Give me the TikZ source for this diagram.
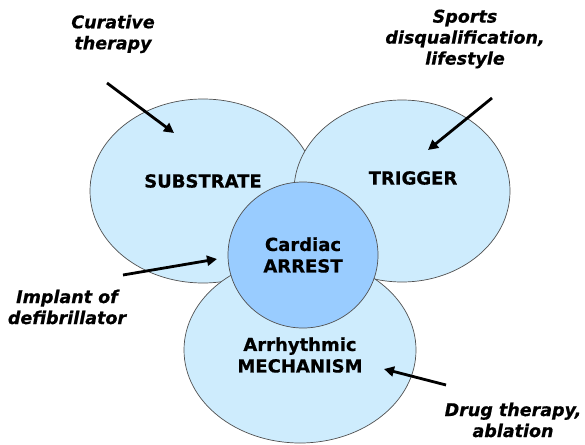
\documentclass[tikz,border=0pt]{standalone}
\usepackage{fontspec}
\setmainfont{DejaVu Sans}[BoldFeatures={FakeBold=0.6},BoldItalicFeatures={FakeBold=0.6}]
\usetikzlibrary{shapes.geometric,arrows.meta}
\definecolor{lightfill}{RGB}{206,236,253}
\definecolor{corefill}{RGB}{153,204,255}
\definecolor{edgegray}{RGB}{80,80,80}
\tikzset{
  blob/.style={ellipse, draw=edgegray, line width=0.7pt, fill=lightfill, inner sep=0pt},
  core/.style={ellipse, draw=edgegray, line width=0.7pt, fill=corefill, inner sep=0pt},
  caps/.style={font=\bfseries\fontsize{18}{21.5}\selectfont, align=center, inner sep=0pt},
  ital/.style={font=\bfseries\itshape\fontsize{17.5}{21}\selectfont, align=center, inner sep=0pt},
  pointer/.style={line width=2.8pt, -{Triangle[length=10pt,width=10pt]}}
}
\begin{document}
\begin{tikzpicture}[x=1pt,y=-1pt]
\useasboundingbox (0,0) rectangle (585,444);
\node[blob, minimum width=226pt, minimum height=184pt] (sub) at (203,191) {};
\node[blob, minimum width=216pt, minimum height=182pt] (trig) at (402,191) {};
\node[blob, minimum width=232pt, minimum height=186pt] (arr) at (300,350) {};
\node[core, minimum width=150pt, minimum height=146pt] (card) at (303,255) {};

\node[caps] (subl) at (203,181) {SUBSTRATE};
\node[caps] (trigl) at (413,178) {TRIGGER};
\node[caps] (cardl) at (303,255) {Cardiac\\ARREST};
\node[caps] (arrl) at (300,355) {Arrhythmic\\MECHANISM};

\node[ital] (cur) at (113,34) {Curative\\therapy};
\node[ital] (sports) at (465,39) {Sports\\disqualification,\\lifestyle};
\node[ital] (impl) at (67,307) {Implant of\\defibrillator};
\node[ital] (drug) at (513,420) {Drug therapy,\\ablation};

\coordinate (a1s) at (107,83);  \coordinate (a1e) at (174,133);
\coordinate (a2s) at (492,98);  \coordinate (a2e) at (428,150);
\coordinate (a3s) at (123,275); \coordinate (a3e) at (217,259);
\coordinate (a4s) at (446,385); \coordinate (a4e) at (384,369);
\draw[pointer] (a1s) -- (a1e);
\draw[pointer] (a2s) -- (a2e);
\draw[pointer] (a3s) -- (a3e);
\draw[pointer] (a4s) -- (a4e);
\end{tikzpicture}
\end{document}
